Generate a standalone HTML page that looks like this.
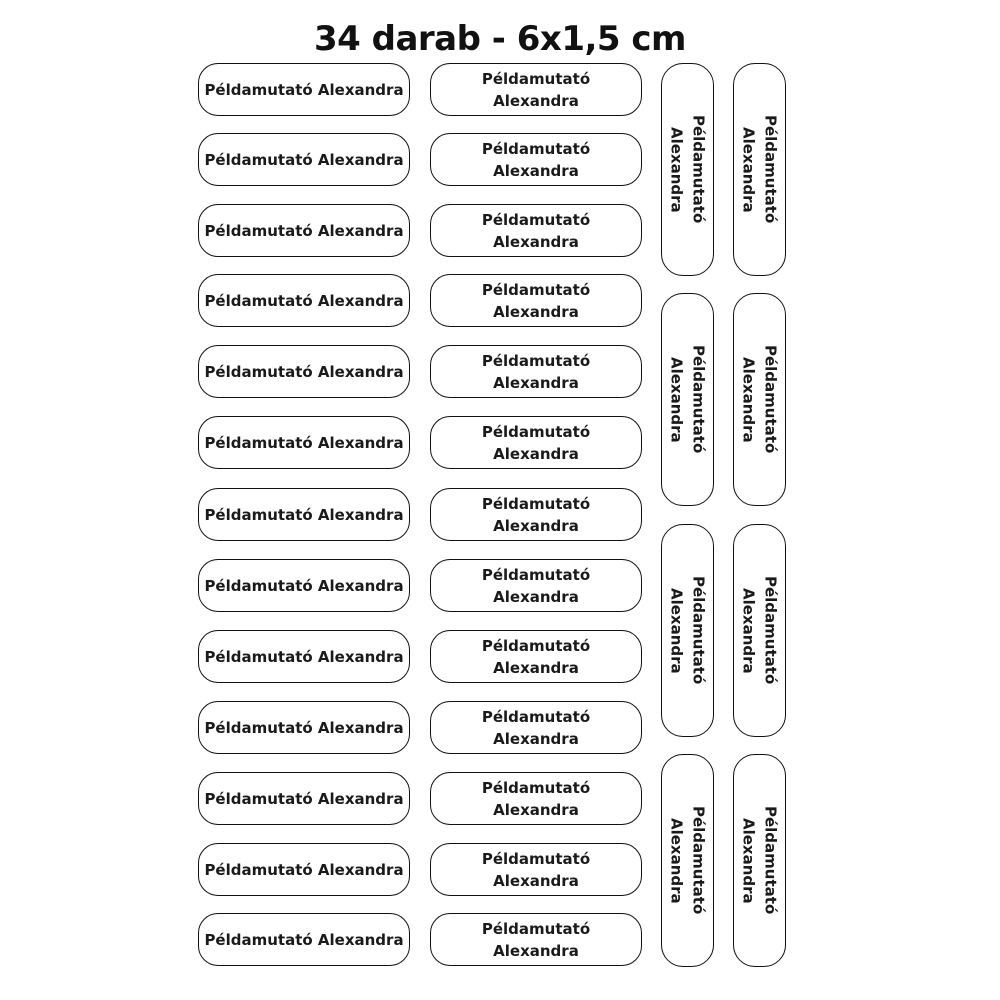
<!DOCTYPE html>
<html><head><meta charset="utf-8"><style>
body{margin:0;width:1000px;height:1000px;background:#fff;position:relative;font-family:"DejaVu Sans","Liberation Sans",sans-serif;overflow:hidden}
.t{position:absolute;left:0;width:1000px;top:19px;text-align:center;font-size:34px;font-weight:bold;color:#111;letter-spacing:-0.5px;font-family:"DejaVu Sans",sans-serif}
.b{position:absolute;box-sizing:border-box;border:1.8px solid #111;border-radius:20px;display:flex;align-items:center;justify-content:center;text-align:center;font-size:15px;font-weight:bold;color:#1a1a1a;line-height:22px}
.h{width:212px;height:53px}
.v{width:53px;height:213px;border-radius:22px;writing-mode:vertical-rl;line-height:22px}
</style></head><body>
<div class="t">34 darab - 6x1,5 cm</div>
<div class="b h" style="left:198px;top:63px">Példamutató Alexandra</div>
<div class="b h" style="left:198px;top:133px">Példamutató Alexandra</div>
<div class="b h" style="left:198px;top:204px">Példamutató Alexandra</div>
<div class="b h" style="left:198px;top:274px">Példamutató Alexandra</div>
<div class="b h" style="left:198px;top:345px">Példamutató Alexandra</div>
<div class="b h" style="left:198px;top:416px">Példamutató Alexandra</div>
<div class="b h" style="left:198px;top:488px">Példamutató Alexandra</div>
<div class="b h" style="left:198px;top:559px">Példamutató Alexandra</div>
<div class="b h" style="left:198px;top:630px">Példamutató Alexandra</div>
<div class="b h" style="left:198px;top:701px">Példamutató Alexandra</div>
<div class="b h" style="left:198px;top:772px">Példamutató Alexandra</div>
<div class="b h" style="left:198px;top:843px">Példamutató Alexandra</div>
<div class="b h" style="left:198px;top:913px">Példamutató Alexandra</div>
<div class="b h" style="left:430px;top:63px">Példamutató<br>Alexandra</div>
<div class="b h" style="left:430px;top:133px">Példamutató<br>Alexandra</div>
<div class="b h" style="left:430px;top:204px">Példamutató<br>Alexandra</div>
<div class="b h" style="left:430px;top:274px">Példamutató<br>Alexandra</div>
<div class="b h" style="left:430px;top:345px">Példamutató<br>Alexandra</div>
<div class="b h" style="left:430px;top:416px">Példamutató<br>Alexandra</div>
<div class="b h" style="left:430px;top:488px">Példamutató<br>Alexandra</div>
<div class="b h" style="left:430px;top:559px">Példamutató<br>Alexandra</div>
<div class="b h" style="left:430px;top:630px">Példamutató<br>Alexandra</div>
<div class="b h" style="left:430px;top:701px">Példamutató<br>Alexandra</div>
<div class="b h" style="left:430px;top:772px">Példamutató<br>Alexandra</div>
<div class="b h" style="left:430px;top:843px">Példamutató<br>Alexandra</div>
<div class="b h" style="left:430px;top:913px">Példamutató<br>Alexandra</div>
<div class="b v" style="left:661px;top:63px">Példamutató<br>Alexandra</div>
<div class="b v" style="left:733px;top:63px">Példamutató<br>Alexandra</div>
<div class="b v" style="left:661px;top:293px">Példamutató<br>Alexandra</div>
<div class="b v" style="left:733px;top:293px">Példamutató<br>Alexandra</div>
<div class="b v" style="left:661px;top:524px">Példamutató<br>Alexandra</div>
<div class="b v" style="left:733px;top:524px">Példamutató<br>Alexandra</div>
<div class="b v" style="left:661px;top:754px">Példamutató<br>Alexandra</div>
<div class="b v" style="left:733px;top:754px">Példamutató<br>Alexandra</div>
</body></html>
